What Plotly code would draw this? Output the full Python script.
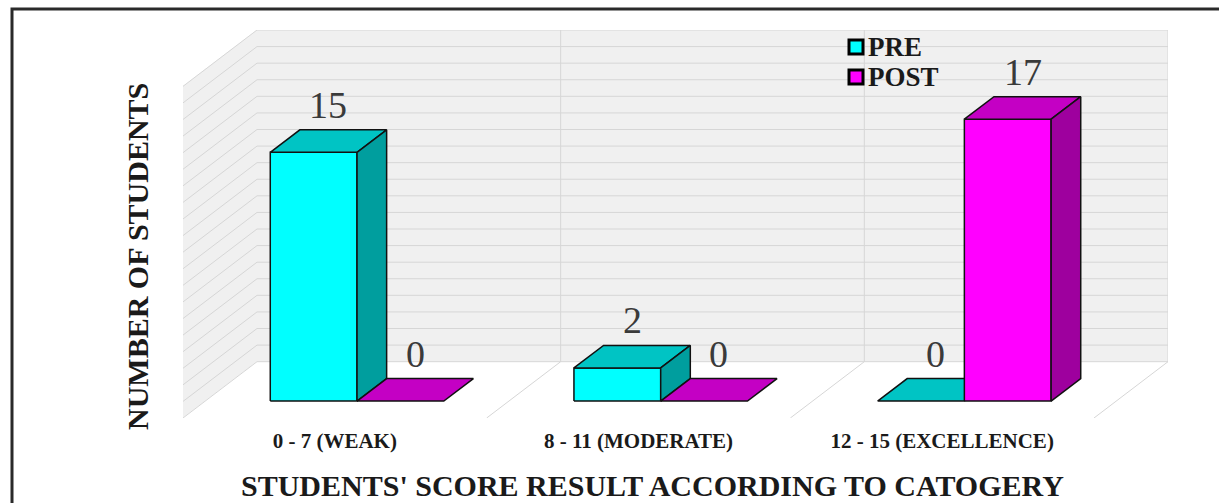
import plotly.graph_objects as go

# ---------------- data ----------------
CATEGORIES = ["0 - 7 (WEAK)", "8 - 11 (MODERATE)", "12 - 15 (EXCELLENCE)"]
SERIES_NAMES = ["PRE", "POST"]
PRE_VALUES = [15, 2, 0]
POST_VALUES = [0, 0, 17]
Y_MAX = 20
GRID_STEP = 1
X_TITLE = "STUDENTS' SCORE RESULT ACCORDING TO CATOGERY"
Y_TITLE = "NUMBER OF STUDENTS"

# ---------------- style / geometry ----------------
FONT = "Liberation Serif"
FRONT = ["#00FFFF", "#FF00FF"]
TOP = ["#00C4C4", "#C400C4"]
SIDE = ["#009E9E", "#9E009E"]
WALL = "#F0F0F0"
GRID = "#D6D6D6"
EDGE = "#111111"

GAP = 1.5                      # gap width (fraction of bar width)
BW = 1.0 / (2 + GAP)           # bar width in category units
FULL_DX = 0.2437               # floor depth, category units
FULL_DY = 3.396                # floor depth, value units
BAR_DX, BAR_DY = 0.4 * FULL_DX, 0.4 * FULL_DY
OFF_DX, OFF_DY = 0.75 * BAR_DX, 0.75 * BAR_DY
n = len(CATEGORIES)

L, R, T, B = 183, 51, 30, 85
W, H = 1219, 503
pw, ph = W - L - R, H - T - B
XR = [0, n + FULL_DX]
YR = [0, Y_MAX + FULL_DY]


def px(xp):
    return (xp - L) / pw


def py(yp):
    return (H - B - yp) / ph


def dx(xp):
    return XR[0] + px(xp) * (XR[1] - XR[0])


def dy(yp):
    return YR[0] + py(yp) * (YR[1] - YR[0])


fig = go.Figure()


def poly(xs, ys, fill, lw=1.2, lc=EDGE):
    fig.add_trace(go.Scatter(x=xs, y=ys, mode="lines", fill="toself",
                             fillcolor=fill, line=dict(color=lc, width=lw),
                             hoverinfo="skip", showlegend=False))


# walls and floor
poly([0, FULL_DX, FULL_DX, 0, 0], [0, FULL_DY, Y_MAX + FULL_DY, Y_MAX, 0], WALL, 0.5, WALL)
poly([FULL_DX, n + FULL_DX, n + FULL_DX, FULL_DX, FULL_DX],
     [FULL_DY, FULL_DY, Y_MAX + FULL_DY, Y_MAX + FULL_DY, FULL_DY], WALL, 0.5, WALL)
poly([0, n, n + FULL_DX, FULL_DX, 0], [0, 0, FULL_DY, FULL_DY, 0], "#FFFFFF", 0.5, "#FFFFFF")

# gridlines (side wall + back wall)
gx, gy = [], []
v = 0
while v <= Y_MAX:
    gx += [0, FULL_DX, n + FULL_DX, None]
    gy += [v, v + FULL_DY, v + FULL_DY, None]
    v += GRID_STEP
# category dividers on floor and back wall
for i in range(1, n + 1):
    gx += [i, i + FULL_DX, i + FULL_DX, None]
    gy += [0, FULL_DY, Y_MAX + FULL_DY, None]
fig.add_trace(go.Scatter(x=gx, y=gy, mode="lines", line=dict(color=GRID, width=1),
                         hoverinfo="skip", showlegend=False))

# bars (front, top, side faces)
annots = []
for s, vals in enumerate([PRE_VALUES, POST_VALUES]):
    fx, fy, tx, ty, sx, sy = [], [], [], [], [], []
    for i, val in enumerate(vals):
        x0 = i + GAP * BW / 2 + s * BW + OFF_DX
        x1 = x0 + BW
        y0 = OFF_DY
        y1 = OFF_DY + val
        if val > 0:
            fx += [x0, x1, x1, x0, x0, None]
            fy += [y0, y0, y1, y1, y0, None]
            sx += [x1, x1 + BAR_DX, x1 + BAR_DX, x1, x1, None]
            sy += [y0, y0 + BAR_DY, y1 + BAR_DY, y1, y0, None]
        tx += [x0, x1, x1 + BAR_DX, x0 + BAR_DX, x0, None]
        ty += [y1, y1, y1 + BAR_DY, y1 + BAR_DY, y1, None]
        annots.append(dict(x=x0 + BW / 2 + BAR_DX / 2, y=y1 + BAR_DY, xref="x", yref="y",
                           text=str(val), showarrow=False, yanchor="bottom", yshift=2,
                           font=dict(family=FONT, size=38, color="#3A3A3A")))
    if fx:
        poly(fx, fy, FRONT[s], 1.5)
    poly(tx, ty, TOP[s], 1.5)
    if sx:
        poly(sx, sy, SIDE[s], 1.5)

# legend (symbols + bold labels)
LEG_X, LEG_Y0, LEG_STEP = 856, 47, 30
for s, name in enumerate(SERIES_NAMES):
    yp = LEG_Y0 + s * LEG_STEP
    fig.add_trace(go.Scatter(x=[dx(LEG_X)], y=[dy(yp)], mode="markers", name=name,
                             showlegend=False, hoverinfo="skip",
                             marker=dict(symbol="square", size=14, color=FRONT[s],
                                         line=dict(color="#000000", width=3))))
    annots.append(dict(x=px(LEG_X + 10), y=py(yp), xref="paper", yref="paper",
                       text="<b>" + name + "</b>", showarrow=False,
                       xanchor="left", yanchor="middle",
                       font=dict(family=FONT, size=27, color="#1A1A1A")))

annots.append(dict(x=px(652), y=py(485), xref="paper", yref="paper",
                   text="<b>" + X_TITLE + "</b>",
                   showarrow=False, font=dict(family=FONT, size=30, color="#1A1A1A"),
                   xanchor="center", yanchor="middle"))
annots.append(dict(x=px(137), y=py(257), xref="paper", yref="paper",
                   text="<b>" + Y_TITLE + "</b>",
                   showarrow=False, textangle=-90,
                   font=dict(family=FONT, size=30, color="#1A1A1A"),
                   xanchor="center", yanchor="middle"))

fig.update_layout(
    width=W, height=H, margin=dict(l=L, r=R, t=T, b=B),
    paper_bgcolor="#FFFFFF", plot_bgcolor="#FFFFFF",
    showlegend=False,
    xaxis=dict(range=XR, showgrid=False, zeroline=False, showline=False,
               tickmode="array", tickvals=[i + 0.5 for i in range(n)],
               ticktext=["<b>" + c + "</b>" for c in CATEGORIES], ticks="",
               ticklabelstandoff=8,
               tickfont=dict(family=FONT, size=21, color="#1A1A1A"), fixedrange=True),
    yaxis=dict(range=YR, showgrid=False, zeroline=False, showline=False,
               showticklabels=False, ticks="", fixedrange=True),
    annotations=annots,
    shapes=[dict(type="rect", xref="paper", yref="paper",
                 x0=px(12), x1=px(1300), y0=py(560), y1=py(9),
                 line=dict(color="#2A2A2A", width=3), fillcolor="rgba(0,0,0,0)")],
)

fig.write_html("out.html")
